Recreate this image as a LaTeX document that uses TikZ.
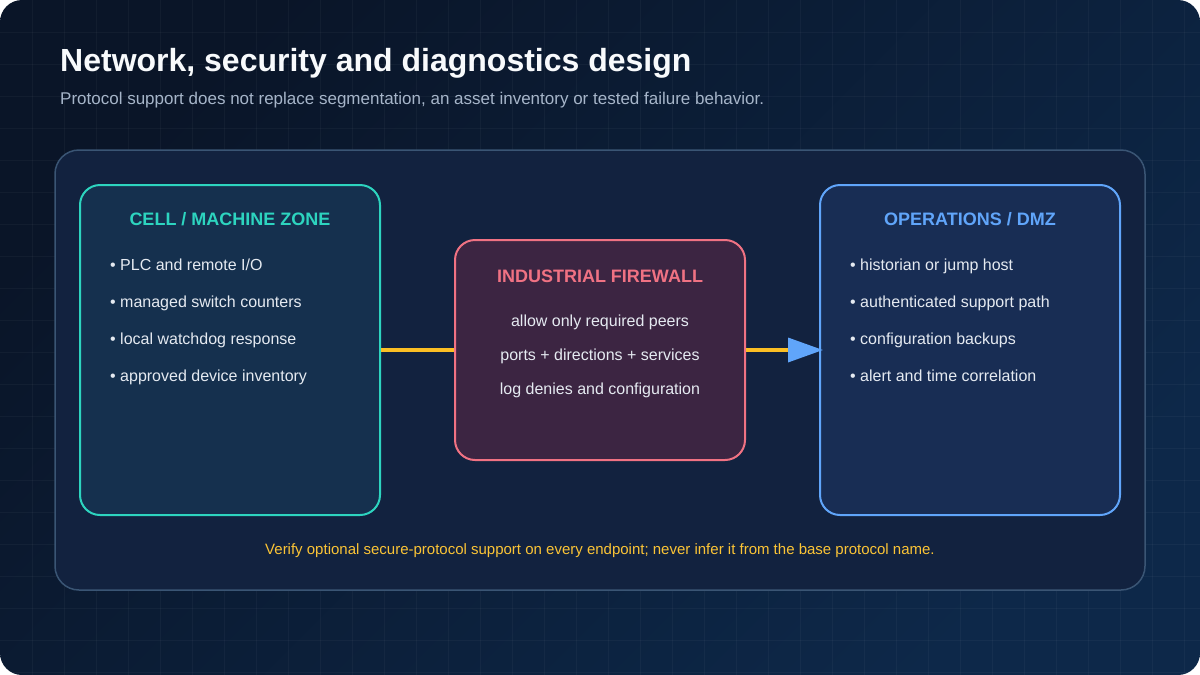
\documentclass[tikz,border=0pt]{standalone}
\usepackage{fontspec}
\setmainfont{Liberation Sans}
\usepackage{xcolor}
\usepackage{tikz}
\definecolor{bgTop}{HTML}{0A1528}
\definecolor{bgBottom}{HTML}{0D2849}
\definecolor{panelFill}{HTML}{12223F}
\definecolor{panelEdge}{HTML}{3A5574}
\definecolor{cellTeal}{HTML}{2DD4BF}
\definecolor{cellFill}{HTML}{15304E}
\definecolor{fwRose}{HTML}{F07283}
\definecolor{fwFill}{HTML}{3C2542}
\definecolor{opsBlue}{HTML}{60A5FA}
\definecolor{opsFill}{HTML}{182D54}
\definecolor{linkAmber}{HTML}{FBBF24}
\definecolor{itemText}{HTML}{E5EAF1}
\definecolor{subText}{HTML}{A6B5C9}
\definecolor{titleText}{HTML}{F8FAFC}
\usetikzlibrary{arrows.meta,positioning}

\begin{document}
\begin{tikzpicture}[
  x=1pt, y=-1pt,
  >=Latex,
  gridline/.style={white, opacity=0.035, line width=1pt},
  zonebox/.style={draw=#1, line width=2pt, rounded corners=20pt, inner sep=0pt},
  zonetitle/.style={anchor=base, inner sep=0pt, font=\fontsize{18}{21}\selectfont\bfseries},
  item/.style={anchor=base west, inner sep=0pt, text=itemText, font=\fontsize{16}{19}\selectfont},
  rule/.style={anchor=base, inner sep=0pt, text=itemText, font=\fontsize{16}{19}\selectfont},
  link/.style={line width=3.5pt, linkAmber}
]

% Background
\useasboundingbox (0,0) rectangle (1200,675);
\fill[white] (0,0) rectangle (1200,675);
\shade[top color=bgTop, bottom color=bgBottom, shading angle=45, rounded corners=22pt] (0,0) rectangle (1200,675);
\begin{scope}
  \clip[rounded corners=22pt] (0,0) rectangle (1200,675);
  \foreach \gx in {32,64,...,1184} \draw[gridline] (\gx,0) -- (\gx,675);
  \foreach \gy in {32,64,...,672} \draw[gridline] (0,\gy) -- (1200,\gy);
\end{scope}

% Heading
\node[anchor=base west, inner sep=0pt, text=titleText, font=\fontsize{32}{38}\selectfont\bfseries] (title) at (60,71)
{Network, security and diagnostics design};
\node[anchor=base west, inner sep=0pt, text=subText, font=\fontsize{17}{20}\selectfont] (subtitle) at (60,104)
{Protocol support does not replace segmentation, an asset inventory or tested failure behavior.};

\node[draw=panelEdge, fill=panelFill, line width=1.5pt, rounded corners=24pt,
  minimum width=1090pt, minimum height=440pt] (panel) at (600,370) {};

% Zones
\node[zonebox=cellTeal, fill=cellFill, minimum width=300pt, minimum height=330pt] (cell) at (230,350) {};
\node[zonetitle, text=cellTeal] (celltitle) at (230,225) {CELL / MACHINE ZONE};
\node[item] (cellitem1) at (110,270) {• PLC and remote I/O};
\node[item] (cellitem2) at (110,307) {• managed switch counters};
\node[item] (cellitem3) at (110,344) {• local watchdog response};
\node[item] (cellitem4) at (110,381) {• approved device inventory};

\node[zonebox=fwRose, fill=fwFill, minimum width=290pt, minimum height=220pt] (firewall) at (600,350) {};
\node[zonetitle, text=fwRose] (fwtitle) at (600,282) {INDUSTRIAL FIREWALL};
\node[rule] (fwrule1) at (600,326) {allow only required peers};
\node[rule] (fwrule2) at (600,360) {ports + directions + services};
\node[rule] (fwrule3) at (600,394) {log denies and configuration};

\node[zonebox=opsBlue, fill=opsFill, minimum width=300pt, minimum height=330pt] (ops) at (970,350) {};
\node[zonetitle, text=opsBlue] (opstitle) at (970,225) {OPERATIONS / DMZ};
\node[item] (opsitem1) at (850,270) {• historian or jump host};
\node[item] (opsitem2) at (850,307) {• authenticated support path};
\node[item] (opsitem3) at (850,344) {• configuration backups};
\node[item] (opsitem4) at (850,381) {• alert and time correlation};

% Relations
\draw[link] (cell.east) -- (firewall.west);
\draw[link, shorten >=-4pt, -{Triangle[length=35pt, width=24pt, color=opsBlue]}] (firewall.east) -- (ops.west);

\node[anchor=base, inner sep=0pt, text=linkAmber!92!white, font=\fontsize{15}{18}\selectfont] (note) at (600,554)
{Verify optional secure-protocol support on every endpoint; never infer it from the base protocol name.};

\end{tikzpicture}
\end{document}
